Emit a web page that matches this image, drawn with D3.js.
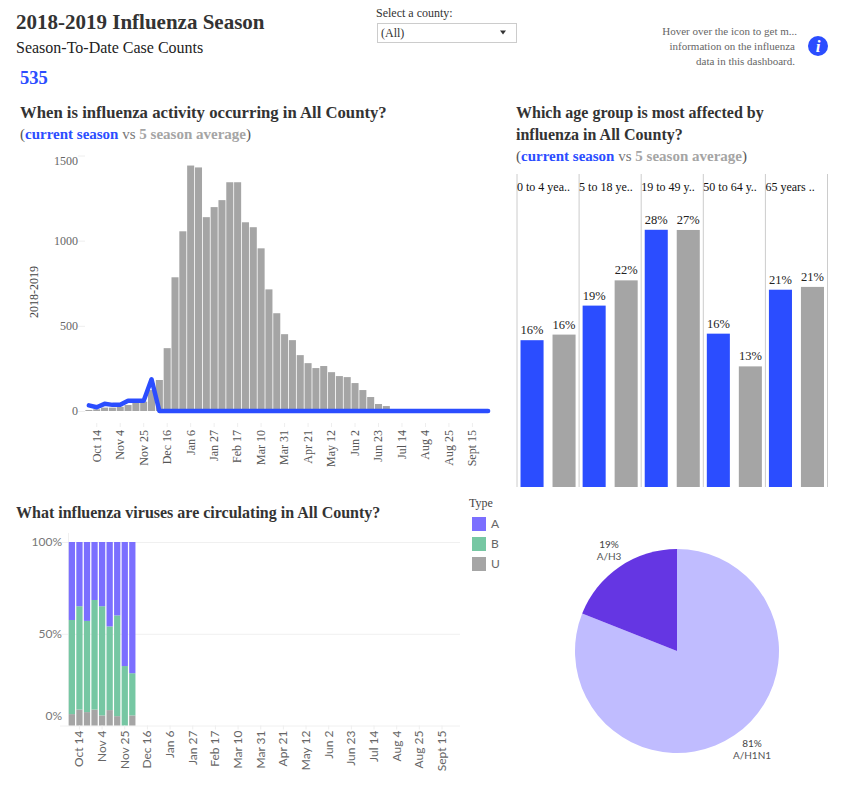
<!DOCTYPE html>
<html>
<head>
<meta charset="utf-8">
<script src="https://cdn.jsdelivr.net/npm/d3@7"></script>
<style>
	body { margin: 0; background: #fff; }
	svg { display: block; }
	text { font-family: "Liberation Serif", serif; }
	.sans { font-family: Lato, sans-serif; }
</style>
</head>
<body>
<div id="chart"></div>
<script>
"use strict";

var weeks = ["Oct 7", "Oct 14", "Oct 21", "Oct 28", "Nov 4", "Nov 11", "Nov 18", "Nov 25", "Dec 2", "Dec 9", "Dec 16", "Dec 23", "Dec 30",
	"Jan 6", "Jan 13", "Jan 20", "Jan 27", "Feb 3", "Feb 10", "Feb 17", "Feb 24", "Mar 3", "Mar 10", "Mar 17", "Mar 24", "Mar 31",
	"Apr 7", "Apr 14", "Apr 21", "Apr 28", "May 5", "May 12", "May 19", "May 26", "Jun 2", "Jun 9", "Jun 16", "Jun 23", "Jun 30",
	"Jul 7", "Jul 14", "Jul 21", "Jul 28", "Aug 4", "Aug 11", "Aug 18", "Aug 25", "Sept 1", "Sept 8", "Sept 15", "Sept 22", "Sept 29"];
var tickWeeks = ["Oct 14", "Nov 4", "Nov 25", "Dec 16", "Jan 6", "Jan 27", "Feb 17", "Mar 10", "Mar 31", "Apr 21", "May 12", "Jun 2", "Jun 23", "Jul 14", "Aug 4", "Aug 25", "Sept 15"];

var averageCases = [6, 10, 20, 20, 25, 35, 55, 55, 123, 182, 369, 785, 1055, 1441, 1430, 1138, 1197, 1238, 1343, 1343, 1108, 1079, 955,
	714, 574, 451, 416, 328, 281, 252, 264, 228, 205, 199, 164, 123, 82, 41, 29, 0, 0, 0, 0, 0, 0, 0, 0, 0, 0, 0, 0, 0];
var currentCases = [33, 22, 42, 36, 36, 60, 60, 60, 186, 0, 0, 0, 0, 0, 0, 0, 0, 0, 0, 0, 0, 0, 0, 0, 0, 0,
	0, 0, 0, 0, 0, 0, 0, 0, 0, 0, 0, 0, 0, 0, 0, 0, 0, 0, 0, 0, 0, 0, 0, 0, 0, 0];
var caseTicks = [0, 500, 1000, 1500];

var ageGroups = ["0 to 4 yea..", "5 to 18 ye..", "19 to 49 y..", "50 to 64 y..", "65 years .."];
var ageCurrent = [15.7, 19.4, 27.51, 16.4, 21.1];
var ageAverage = [16.3, 22.1, 27.49, 12.9, 21.4];

var typeNames = ["U", "B", "A"];
var typeU = [6.2, 8.7, 7.3, 8.7, 5.5, 8.4, 5.1, 0, 5.5];
var typeB = [51.3, 56.3, 49.7, 59.7, 59.5, 45.6, 54.9, 32.4, 23];
var typeA = [42.5, 35, 43, 31.6, 35, 46, 40, 67.6, 71.5];
var percentTicks = [0, 50, 100];

var subtypes = ["A/H1N1", "A/H3"];
var subtypeShare = [81, 19];

var blue = "#2b4dff";
var gray = "#a5a5a5";
var typeColors = d3.scaleOrdinal().domain(typeNames).range([gray, "#76c7a3", "#7b6fff"]);
var subtypeColors = d3.scaleOrdinal().domain(subtypes).range(["#c0bcff", "#6536e3"]);

var svg = d3.select("#chart").append("svg").attr("width", 851).attr("height", 787);

function label(x, y, txt, size, color, bold, anchor){
	return svg.append("text")
		.attr("x", x)
		.attr("y", y)
		.attr("text-anchor", anchor || "start")
		.style("font-size", size + "px")
		.style("font-weight", bold ? "bold" : "normal")
		.style("fill", color)
		.text(txt);
}

//the "(current season vs 5 season average)" line appears above two of the charts
function seasonLine(x, y){
	var line = label(x, y, "(", 15, "#555", false);
	line.append("tspan").style("fill", blue).style("font-weight", "bold").text("current season");
	line.append("tspan").style("fill", "#777").text(" vs ");
	line.append("tspan").style("fill", gray).style("font-weight", "bold").text("5 season average");
	line.append("tspan").text(")");
}

//header
label(16, 29, "2018-2019 Influenza Season", 21, "#333", true);
label(16, 53, "Season-To-Date Case Counts", 16, "#222", false);
label(20, 84, "535", 18.5, blue, true);

label(376, 17, "Select a county:", 12, "#333", false);
svg.append("rect")
	.attr("x", 377.5).attr("y", 23.5).attr("width", 139).attr("height", 19)
	.style("fill", "#fff").style("stroke", "#ccc");
label(381, 37, "(All)", 12, "#333", false);
svg.append("path")
	.attr("d", "M500 30.5h6l-3 4z")
	.style("fill", "#333");

label(797, 35, "Hover over the icon to get m...", 11, "#666", false, "end");
label(795, 50, "information on the influenza", 11, "#666", false, "end");
label(795, 65, "data in this dashboard.", 11, "#666", false, "end");
svg.append("circle").attr("cx", 818).attr("cy", 46).attr("r", 10).style("fill", blue);
label(818, 52, "i", 17, "#fff", true, "middle").style("font-style", "italic");

//weekly case counts, bars for the average and a line for this season
label(20, 118, "When is influenza activity occurring in All County?", 16.7, "#333", true);
seasonLine(20, 139);

var caseX = d3.scaleBand().domain(weeks).range([85, 492]).paddingInner(0.1).paddingOuter(0.05);
var caseY = d3.scaleLinear().domain([0, 1500]).range([411, 155.5]);

svg.selectAll(".avgBar")
	.data(averageCases)
	.enter()
	.append("rect")
	.attr("class", "avgBar")
	.attr("x", function(d, i){ return caseX(weeks[i]); })
	.attr("y", function(d){ return caseY(d); })
	.attr("width", caseX.bandwidth())
	.attr("height", function(d){ return caseY(0) - caseY(d); })
	.style("fill", gray);

var caseLine = d3.line()
	.x(function(d, i){ return caseX(weeks[i]) + caseX.bandwidth()/2; })
	.y(function(d){ return caseY(d); });

svg.append("path")
	.datum(currentCases)
	.attr("d", caseLine)
	.style("fill", "none")
	.style("stroke", blue)
	.style("stroke-width", "4.5px")
	.style("stroke-linejoin", "round")
	.style("stroke-linecap", "round");

var caseYAxis = svg.append("g")
	.attr("transform", "translate(85,0)")
	.call(d3.axisLeft(caseY).tickValues(caseTicks).tickSize(7).tickPadding(0).tickFormat(d3.format("d")));
caseYAxis.select(".domain").remove();
caseYAxis.selectAll("line").style("stroke", "#eee");
caseYAxis.selectAll("text")
	.style("font-family", "Liberation Serif, serif")
	.style("font-size", "12px")
	.style("fill", "#666")
	.attr("dy", function(d){ return d == 1500 ? "0.75em" : "0.32em"; });

var caseXAxis = svg.append("g")
	.attr("transform", "translate(0,423)")
	.call(d3.axisBottom(caseX).tickValues(tickWeeks).tickSize(4).tickPadding(0));
caseXAxis.select(".domain").remove();
caseXAxis.selectAll("line").style("stroke", "#eee");
caseXAxis.selectAll("text")
	.attr("transform", "rotate(-90)")
	.attr("x", -7)
	.attr("y", 0)
	.attr("dy", "0.32em")
	.style("text-anchor", "end")
	.style("font-family", "Liberation Serif, serif")
	.style("font-size", "12px")
	.style("fill", "#555");

label(0, 0, "2018-2019", 12, "#444", false, "middle")
	.attr("transform", "translate(38,292) rotate(-90)");

//age groups, one panel per group
label(516, 118, "Which age group is most affected by", 16, "#333", true);
label(516, 140, "influenza in All County?", 16, "#333", true);
seasonLine(516, 161);

var ageX = d3.scaleBand().domain(ageGroups).range([517, 827.5]);
var ageInner = d3.scaleBand().domain(["current", "average"]).range([0, ageX.bandwidth()]).paddingInner(0.28).paddingOuter(0.11);
var ageY = d3.scaleLinear().domain([0, 30]).range([487, 206.5]);

svg.selectAll(".panelLine")
	.data(ageGroups.concat("end"))
	.enter()
	.append("line")
	.attr("class", "panelLine")
	.attr("x1", function(d, i){ return 517 + i*ageX.bandwidth(); })
	.attr("x2", function(d, i){ return 517 + i*ageX.bandwidth(); })
	.attr("y1", 174)
	.attr("y2", 487)
	.style("stroke", "#ccc");

ageGroups.forEach(function(group, i){
	label(ageX(group), 191, group, 12, "#111", false);
	[["current", ageCurrent[i], blue], ["average", ageAverage[i], gray]].forEach(function(s){
		svg.append("rect")
			.attr("x", ageX(group) + ageInner(s[0]))
			.attr("y", ageY(s[1]))
			.attr("width", ageInner.bandwidth())
			.attr("height", ageY(0) - ageY(s[1]))
			.style("fill", s[2]);
		label(ageX(group) + ageInner(s[0]) + ageInner.bandwidth()/2, ageY(s[1]) - 6, Math.round(s[1]) + "%", 12.5, "#222", false, "middle");
	});
});

//virus types, stacked to 100%
label(16, 518, "What influenza viruses are circulating in All County?", 16, "#333", true);

var typeX = d3.scaleBand().domain(weeks).range([68, 461]).paddingInner(0.17).paddingOuter(0.1);
var typeY = d3.scaleLinear().domain([0, 100]).range([725.5, 542]);

var typeGrid = svg.append("g")
	.attr("transform", "translate(460,0)")
	.call(d3.axisLeft(typeY).tickValues(percentTicks).tickSize(400).tickFormat(""));
typeGrid.select(".domain").remove();
typeGrid.selectAll("line").style("stroke", "#f0f0f0");

svg.append("line")
	.attr("x1", 68.5).attr("x2", 68.5).attr("y1", 533).attr("y2", 725.5)
	.style("stroke", "#f0f0f0");

var typeRows = typeU.map(function(d, i){
	return { week: weeks[i], U: d, B: typeB[i], A: typeA[i] };
});

svg.selectAll(".typeLayer")
	.data(d3.stack().keys(typeNames)(typeRows))
	.enter()
	.append("g")
	.attr("class", "typeLayer")
	.style("fill", function(d){ return typeColors(d.key); })
	.selectAll("rect")
	.data(function(d){ return d; })
	.enter()
	.append("rect")
	.attr("x", function(d){ return typeX(d.data.week); })
	.attr("y", function(d){ return typeY(d[1]); })
	.attr("width", typeX.bandwidth())
	.attr("height", function(d){ return typeY(d[0]) - typeY(d[1]); });

var typeYAxis = svg.append("g")
	.attr("transform", "translate(62,0)")
	.call(d3.axisLeft(typeY).tickValues(percentTicks).tickSize(0).tickPadding(0).tickFormat(function(d){ return d + "%"; }));
typeYAxis.select(".domain").remove();
typeYAxis.selectAll("text")
	.attr("dy", function(d){ return d == 0 ? "-0.5em" : "0.32em"; })
	.style("font-family", "Lato, sans-serif")
	.style("font-size", "12px")
	.style("fill", "#777");

var typeXAxis = svg.append("g")
	.attr("transform", "translate(0,725.5)")
	.call(d3.axisBottom(typeX).tickValues(tickWeeks).tickSize(4).tickPadding(0));
typeXAxis.select(".domain").remove();
typeXAxis.selectAll("line").style("stroke", "#eee");
typeXAxis.selectAll("text")
	.attr("transform", "rotate(-90)")
	.attr("x", -5)
	.attr("y", 0)
	.attr("dy", "0.32em")
	.style("text-anchor", "end")
	.style("font-family", "Lato, sans-serif")
	.style("font-size", "12px")
	.style("fill", "#666");

//legend for the stacked bars
label(469, 507, "Type", 12, "#444", false);
typeNames.slice().reverse().forEach(function(name, i){
	svg.append("rect")
		.attr("x", 472).attr("y", 517 + i*20).attr("width", 14).attr("height", 14)
		.style("fill", typeColors(name));
	label(491, 528 + i*20, name, 12, "#666", false).attr("class", "sans");
});

//influenza A subtypes
var pie = d3.pie().sort(null)(subtypeShare);
var arc = d3.arc().innerRadius(0).outerRadius(102);

svg.append("g")
	.attr("transform", "translate(677,651)")
	.selectAll("path")
	.data(pie)
	.enter()
	.append("path")
	.attr("d", arc)
	.style("fill", function(d, i){ return subtypeColors(subtypes[i]); });

label(609, 548, subtypeShare[1] + "%", 10, "#444", false, "middle").attr("class", "sans");
label(609, 560, subtypes[1], 10, "#555", false, "middle").attr("class", "sans");
label(752, 747, subtypeShare[0] + "%", 10, "#444", false, "middle").attr("class", "sans");
label(752, 759, subtypes[0], 10, "#555", false, "middle").attr("class", "sans");
</script>
</body>
</html>
